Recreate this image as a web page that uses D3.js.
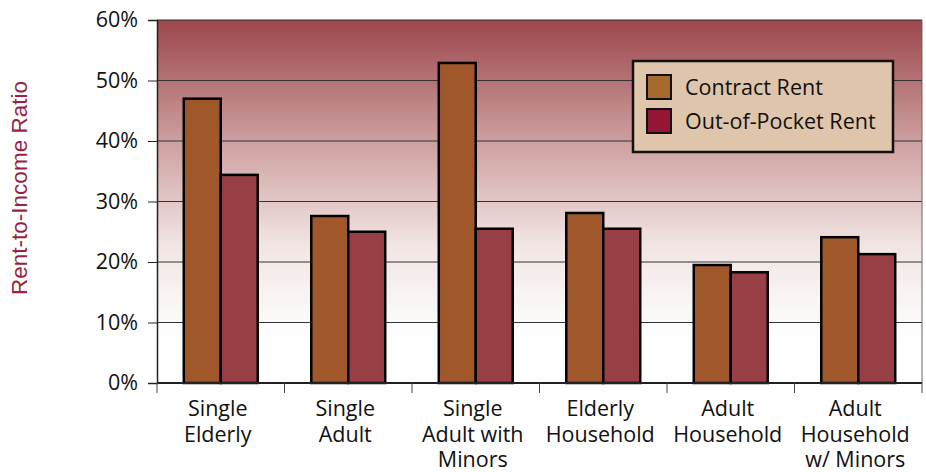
<!DOCTYPE html>
<html>
<head>
<meta charset="utf-8">
<script src="https://cdn.jsdelivr.net/npm/d3@7"></script>
<style>
  html, body { margin: 0; padding: 0; background: #fff; }
  svg text { font-family: "Open Sans", "Noto Sans", sans-serif; }
</style>
</head>
<body>
<div id="chart"></div>
<script>
// data
const categories = [
  ['Single', 'Elderly'],
  ['Single', 'Adult'],
  ['Single', 'Adult with', 'Minors'],
  ['Elderly', 'Household'],
  ['Adult', 'Household'],
  ['Adult', 'Household', 'w/ Minors']
];
const seriesNames = ['Contract Rent', 'Out-of-Pocket Rent'];
const contractRent = [0.47, 0.276, 0.529, 0.281, 0.195, 0.241];
const outOfPocketRent = [0.344, 0.250, 0.255, 0.255, 0.183, 0.213];
const yTicks = [0, 0.1, 0.2, 0.3, 0.4, 0.5, 0.6];

const W = 926, H = 472;
const margin = { top: 20, right: 4, bottom: 89, left: 157 };
const width = W - margin.left - margin.right;
const height = H - margin.top - margin.bottom;
const fs = 21.5;

const barColors = ['#a0582a', '#973f45'];
const legendColors = ['#a66a2c', '#951535'];

const svg = d3.select('#chart').append('svg')
  .attr('width', W).attr('height', H);

const defs = svg.append('defs');
const grad = defs.append('linearGradient')
  .attr('id', 'bg').attr('x1', 0).attr('y1', 0).attr('x2', 0).attr('y2', 1);
grad.append('stop').attr('offset', '0%').attr('stop-color', '#9c474d');
grad.append('stop').attr('offset', '35%').attr('stop-color', '#d0a3a3');
grad.append('stop').attr('offset', '62%').attr('stop-color', '#f1e5e3');
grad.append('stop').attr('offset', '88%').attr('stop-color', '#ffffff');
grad.append('stop').attr('offset', '100%').attr('stop-color', '#ffffff');

const g = svg.append('g').attr('transform', `translate(${margin.left},${margin.top})`);

const x0 = d3.scaleBand().domain(d3.range(categories.length)).range([0, width]).paddingInner(0.42).paddingOuter(0.21);
const x1 = d3.scaleBand().domain([0, 1]).range([0, x0.bandwidth()]);
const xCat = d3.scaleBand().domain(d3.range(categories.length)).range([0, width]);
const y = d3.scaleLinear().domain([0, 0.6]).range([height, 0]);

// background
g.append('rect').attr('width', width).attr('height', height).attr('fill', 'url(#bg)');

// gridlines
g.selectAll('.grid').data(yTicks.slice(1)).join('line')
  .attr('x1', 0).attr('x2', width)
  .attr('y1', d => y(d)).attr('y2', d => y(d))
  .attr('stroke', '#333').attr('stroke-width', 1.2);

// right border
g.append('line').attr('x1', width).attr('x2', width).attr('y1', 0).attr('y2', height)
  .attr('stroke', '#666').attr('stroke-width', 1);

// bars
const series = [contractRent, outOfPocketRent];
series.forEach((vals, s) => {
  g.selectAll('.bar' + s).data(vals).join('rect')
    .attr('x', (d, i) => x0(i) + x1(s))
    .attr('y', d => y(d))
    .attr('width', x1.bandwidth())
    .attr('height', d => height - y(d))
    .attr('fill', barColors[s])
    .attr('stroke', '#000').attr('stroke-width', 2.5);
});

// y axis
const yAxis = g.append('g')
  .call(d3.axisLeft(y).tickValues(yTicks).tickFormat(d3.format('.0%')).tickSize(9).tickPadding(10));
yAxis.select('.domain').attr('stroke', '#222').attr('stroke-width', 1.5);
yAxis.selectAll('.tick line').attr('stroke', '#222');
yAxis.selectAll('text').attr('font-size', fs).attr('fill', '#111');

// x axis (category boundary ticks)
const xb = d3.range(categories.length + 1).map(i => i * xCat.step());
const xAxis = g.append('g').attr('transform', `translate(0,${height})`);
xAxis.append('line').attr('x1', 0).attr('x2', width).attr('stroke', '#222').attr('stroke-width', 2);
xAxis.selectAll('.xt').data(xb).join('line')
  .attr('x1', d => d).attr('x2', d => d).attr('y1', 0).attr('y2', 10)
  .attr('stroke', '#444').attr('stroke-width', 1);

const lab = xAxis.selectAll('.xl').data(categories).join('text')
  .attr('text-anchor', 'middle')
  .attr('font-size', fs).attr('fill', '#111')
  .attr('transform', (d, i) => `translate(${xCat(i) + xCat.bandwidth() / 2 - 3},0)`);
lab.selectAll('tspan').data(d => d).join('tspan')
  .attr('x', 0).attr('y', (d, i) => 33 + i * 25.5)
  .text(d => d);

// y axis title
svg.append('text')
  .attr('transform', 'translate(27,188) rotate(-90)')
  .attr('text-anchor', 'middle')
  .attr('font-size', 22.5)
  .attr('fill', '#9a1f40')
  .style('font-family', '"Liberation Sans", Arial, sans-serif')
  .text('Rent-to-Income Ratio');

// legend
const legend = svg.append('g').attr('transform', 'translate(633,61)');
legend.append('rect').attr('width', 260).attr('height', 91)
  .attr('fill', '#dfc5ab').attr('stroke', '#111').attr('stroke-width', 2.5);
const li = legend.selectAll('.li').data(seriesNames).join('g')
  .attr('transform', (d, i) => `translate(14,${14 + i * 34})`);
li.append('rect').attr('width', 24).attr('height', 24)
  .attr('fill', (d, i) => legendColors[i]).attr('stroke', '#111').attr('stroke-width', 2);
li.append('text').attr('x', 38).attr('y', 20)
  .attr('font-size', fs).attr('fill', '#111')
  .text(d => d);
</script>
</body>
</html>
